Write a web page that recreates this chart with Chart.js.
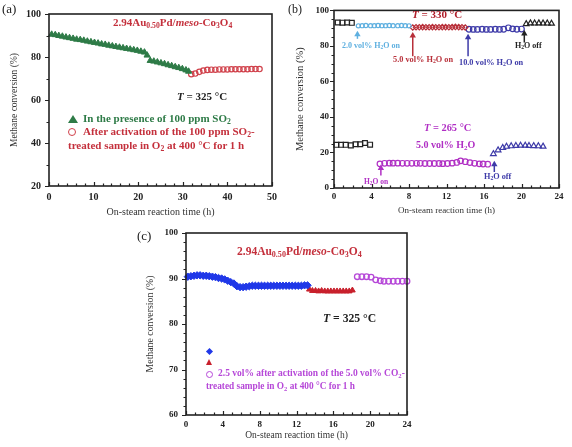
<!DOCTYPE html>
<html lang="en">
<head>
<meta charset="UTF-8">
<title>Methane conversion vs on-steam time</title>
<style>
  body { margin: 0; background: #fff; font-family: "Liberation Serif", serif; }
  #wrap { position: relative; width: 572px; height: 447px; overflow: hidden; }
  canvas { position: absolute; }
  .t { position: absolute; white-space: nowrap; font-weight: bold; line-height: 1; }
  .t sub { font-size: 70%; vertical-align: -0.25em; line-height: 0; }
  .p { position: absolute; font-size: 13px; line-height: 1; color: #222; }
  .tri { position: absolute; width: 0; height: 0; border-left: 5px solid transparent; border-right: 5px solid transparent; }
  .cir { position: absolute; border-radius: 50%; background: #fff; }
  .dia { position: absolute; width: 5px; height: 5px; transform: rotate(45deg); }
</style>
<script src="https://cdn.jsdelivr.net/npm/chart.js@4.4.0/dist/chart.umd.min.js"></script>
</head>
<body>
<div id="wrap">
  <canvas id="ca" width="290" height="220" style="left:0;top:0"></canvas>
  <canvas id="cb" width="287" height="220" style="left:285px;top:0"></canvas>
  <canvas id="cc" width="370" height="232" style="left:100px;top:215px"></canvas>

  <div class="p" style="left:2px;top:2px">(a)</div>
  <div class="p" style="left:288px;top:3px;font-size:12px">(b)</div>
  <div class="p" style="left:137px;top:229px">(c)</div>

  <!-- panel a -->
  <div class="t" style="left:113px;top:17px;font-size:11px;color:#c4303c">2.94Au<sub>0.50</sub>Pd/<i>meso</i>-Co<sub>3</sub>O<sub>4</sub></div>
  <div class="t" style="left:177px;top:91px;font-size:11px;color:#222"><i>T</i> = 325 °C</div>
  <div class="tri" style="left:68px;top:115px;border-bottom:8px solid #2e7b47"></div>
  <div class="t" style="left:83px;top:113px;font-size:11px;color:#2e7b47">In the presence of 100 ppm SO<sub>2</sub></div>
  <div class="cir" style="left:68px;top:128px;width:6px;height:6px;border:1.3px solid #d0404a"></div>
  <div class="t" style="left:83px;top:126px;font-size:11px;color:#c4303c">After activation of the 100 ppm SO<sub>2</sub>-</div>
  <div class="t" style="left:68px;top:140px;font-size:11px;color:#c4303c">treated sample in O<sub>2</sub> at 400 °C for 1 h</div>

  <!-- panel b -->
  <div class="t" style="left:412px;top:9px;font-size:11px;color:#b0202c"><i>T</i> = 330 °C</div>
  <div class="t" style="left:342px;top:42px;font-size:8px;color:#5fb0e0">2.0 vol% H<sub>2</sub>O on</div>
  <div class="t" style="left:393px;top:56px;font-size:8.3px;color:#b8303a">5.0 vol% H<sub>2</sub>O on</div>
  <div class="t" style="left:459px;top:59px;font-size:8.3px;color:#3d3aa8">10.0 vol% H<sub>2</sub>O on</div>
  <div class="t" style="left:515px;top:42px;font-size:8px;color:#222">H<sub>2</sub>O off</div>
  <div class="t" style="left:424px;top:123px;font-size:10.4px;color:#b02fc4"><i>T</i> = 265 °C</div>
  <div class="t" style="left:416px;top:140px;font-size:10px;color:#b02fc4">5.0 vol% H<sub>2</sub>O</div>
  <div class="t" style="left:364px;top:178px;font-size:7.5px;color:#b02fc4">H<sub>2</sub>O on</div>
  <div class="t" style="left:484px;top:173px;font-size:8.2px;color:#3d3aa8">H<sub>2</sub>O off</div>

  <!-- panel c -->
  <div class="t" style="left:237px;top:246px;font-size:11.5px;color:#c4303c">2.94Au<sub>0.50</sub>Pd/<i>meso</i>-Co<sub>3</sub>O<sub>4</sub></div>
  <div class="t" style="left:323px;top:313px;font-size:11.7px;color:#222"><i>T</i> = 325 °C</div>
  <div class="dia" style="left:206.5px;top:348.5px;background:#2038e8"></div>
  <div class="tri" style="left:206px;top:359px;border-left-width:3.5px;border-right-width:3.5px;border-bottom:6px solid #c8202c"></div>
  <div class="cir" style="left:206px;top:371px;width:5px;height:5px;border:1.2px solid #b648d8"></div>
  <div class="t" style="left:218px;top:369px;font-size:9.5px;color:#b648d8">2.5 vol% after activation of the 5.0 vol% CO<sub>2</sub>-</div>
  <div class="t" style="left:206px;top:382px;font-size:9.3px;color:#b648d8">treated sample in O<sub>2</sub> at 400 °C for 1 h</div>
</div>

<script>
// (a) SO2 test, 325 C
const aSO2Time = [0.6, 1.4, 2.2, 3.0, 3.8, 4.6, 5.4, 6.2, 7.0, 7.8, 8.6, 9.4, 10.2, 11.0, 11.8, 12.6, 13.4, 14.2, 15.0, 15.8,
  16.6, 17.4, 18.2, 19.0, 19.8, 20.6, 21.4, 22.0, 22.7, 23.5, 24.3, 25.1, 25.9, 26.7, 27.5, 28.3, 29.1, 29.9, 30.7, 31.3];
const aSO2Conv = [90.5, 90.3, 89.9, 89.6, 89.2, 88.9, 88.6, 88.2, 88.0, 87.7, 87.3, 87.0, 86.7, 86.4, 86.0, 85.8, 85.4, 85.1, 84.8, 84.5,
  84.2, 83.9, 83.6, 83.3, 83.0, 82.6, 82.2, 80.8, 78.3, 78.0, 77.6, 77.2, 76.8, 76.3, 75.9, 75.4, 75.0, 74.5, 73.9, 73.3];
const aRegenTime = [31.9, 32.8, 33.7, 34.6, 35.5, 36.4, 37.3, 38.2, 39.1, 40.0, 40.9, 41.8, 42.7, 43.6, 44.5, 45.4, 46.3, 47.2];
const aRegenConv = [72.0, 72.3, 73.1, 73.7, 74.0, 74.1, 74.1, 74.2, 74.2, 74.2, 74.3, 74.3, 74.3, 74.3, 74.3, 74.4, 74.4, 74.4];

// (b) water test, 330 C (upper) and 265 C (lower)
const bDryHiTime = [0.4, 0.9, 1.4, 1.9];
const bDryHiConv = [93.2, 93.1, 93.2, 93.0];
const bW2Time = [2.6, 3.0, 3.4, 3.9, 4.3, 4.7, 5.1, 5.5, 5.9, 6.3, 6.8, 7.2, 7.6, 8.0];
const bW2Conv = [91.3, 91.4, 91.5, 91.4, 91.4, 91.5, 91.4, 91.4, 91.5, 91.4, 91.4, 91.5, 91.4, 91.3];
const bW5Time = [8.4, 8.75, 9.1, 9.45, 9.8, 10.15, 10.5, 10.85, 11.2, 11.55, 11.9, 12.25, 12.6, 12.95, 13.3, 13.65, 14.0];
const bW5Conv = [90.4, 90.5, 90.5, 90.6, 90.5, 90.5, 90.6, 90.5, 90.5, 90.6, 90.6, 90.5, 90.6, 90.7, 90.6, 90.5, 90.4];
const bW10Time = [14.4, 14.85, 15.3, 15.8, 16.25, 16.7, 17.2, 17.65, 18.1, 18.6, 19.05, 19.5, 20.0];
const bW10Conv = [89.4, 89.3, 89.3, 89.4, 89.3, 89.3, 89.4, 89.3, 89.4, 90.2, 89.6, 89.4, 89.5];
const bOffHiTime = [20.5, 20.95, 21.4, 21.85, 22.3, 22.75, 23.2];
const bOffHiConv = [92.4, 92.8, 92.7, 92.8, 92.7, 92.7, 92.6];
const bDryLoTime = [0.25, 0.75, 1.25, 1.8, 2.3, 2.8, 3.3, 3.85];
const bDryLoConv = [24.3, 24.3, 24.3, 24.0, 24.6, 24.6, 25.3, 24.4];
const bWetLoTime = [4.9, 5.4, 5.9, 6.3, 6.8, 7.3, 7.8, 8.3, 8.8, 9.2, 9.7, 10.2, 10.7, 11.2, 11.6, 12.1, 12.6, 13.1, 13.5, 14.0,
  14.5, 15.0, 15.5, 15.9, 16.4];
const bWetLoConv = [13.6, 13.9, 14.0, 14.0, 14.0, 13.9, 13.9, 13.9, 13.9, 13.9, 13.8, 13.8, 13.8, 13.8, 13.7, 13.8, 14.0, 14.4, 15.3, 14.8,
  14.3, 13.9, 13.6, 13.5, 13.4];
const bOffLoTime = [17.0, 17.5, 18.0, 18.4, 18.9, 19.4, 19.9, 20.4, 20.8, 21.3, 21.8, 22.3];
const bOffLoConv = [19.2, 21.3, 22.6, 23.3, 23.6, 23.8, 23.9, 23.9, 23.8, 23.7, 23.6, 23.4];
// arrows in (b): time, tail and tip in conversion units
const bArrowTime = [2.5, 8.4, 14.3, 20.3, 5.0, 17.1];
const bArrowTail = [84.0, 74.2, 74.2, 81.9, 7.1, 9.0];
const bArrowTip = [88.6, 87.9, 86.8, 89.0, 13.2, 15.4];

// (c) CO2 test, 325 C
const cDiaTime = [0.2, 0.53, 0.87, 1.2, 1.53, 1.87, 2.2, 2.53, 2.87, 3.2, 3.53, 3.87, 4.2, 4.53, 4.87, 5.2, 5.53, 5.87, 6.2, 6.53,
  6.87, 7.2, 7.53, 7.87, 8.2, 8.53, 8.87, 9.2, 9.53, 9.87, 10.2, 10.53, 10.87, 11.2, 11.53, 11.87, 12.2, 12.53, 12.87, 13.2];
const cDiaConv = [90.4, 90.5, 90.6, 90.7, 90.7, 90.6, 90.6, 90.5, 90.4, 90.3, 90.1, 90.0, 89.8, 89.5, 89.2, 88.9, 88.3, 88.1, 88.1, 88.2,
  88.3, 88.4, 88.4, 88.4, 88.4, 88.4, 88.4, 88.4, 88.4, 88.4, 88.4, 88.4, 88.4, 88.4, 88.4, 88.4, 88.4, 88.4, 88.5, 88.5];
const cTriTime = [13.4, 13.73, 14.07, 14.4, 14.73, 15.07, 15.4, 15.73, 16.07, 16.4, 16.73, 17.07, 17.4, 17.73, 18.07];
const cTriConv = [87.6, 87.3, 87.3, 87.2, 87.3, 87.2, 87.2, 87.2, 87.2, 87.2, 87.2, 87.2, 87.2, 87.2, 87.4];
const cCirTime = [18.6, 19.1, 19.6, 20.1, 20.6, 21.1, 21.5, 22.0, 22.5, 23.0, 23.5, 24.0];
const cCirConv = [90.4, 90.4, 90.4, 90.3, 89.7, 89.5, 89.4, 89.4, 89.4, 89.4, 89.4, 89.4];

const pts = (xs, ys) => xs.map((x, i) => ({x, y: ys[i]}));

const arrowColors = ['#5fb0e0', '#b8303a', '#3d3aa8', '#222', '#b02fc4', '#3d3aa8'];

// box around plot area, x ticks inward, y ticks outward
const frame = {
  id: 'frame',
  afterDraw(chart, args, o) {
    const {ctx, chartArea: a, scales: {x, y}} = chart;
    ctx.save();
    ctx.strokeStyle = '#222';
    ctx.lineWidth = 1.2;
    ctx.beginPath();
    const nx = Math.round((x.max - x.min) / o.xMinor);
    for (let i = 0; i <= nx; i++) {
      const px = Math.round(x.getPixelForValue(x.min + i * o.xMinor)) + 0.5;
      const len = i % o.xEvery === 0 ? 4 : 2.5;
      ctx.moveTo(px, a.bottom);
      ctx.lineTo(px, a.bottom - len);
    }
    const ny = Math.round((y.max - y.min) / o.yMinor);
    for (let i = 0; i <= ny; i++) {
      const py = Math.round(y.getPixelForValue(y.min + i * o.yMinor)) + 0.5;
      const len = i % o.yEvery === 0 ? 4 : 2.5;
      ctx.moveTo(a.left, py);
      ctx.lineTo(a.left - len, py);
    }
    ctx.stroke();
    ctx.lineWidth = 1.6;
    ctx.strokeRect(a.left, a.top, a.right - a.left, a.bottom - a.top);
    ctx.restore();
  }
};

const arrows = {
  id: 'arrows',
  afterDatasetsDraw(chart) {
    const {ctx, scales: {x, y}} = chart;
    ctx.save();
    bArrowTime.forEach((t, i) => {
      const px = x.getPixelForValue(t);
      const y0 = y.getPixelForValue(bArrowTail[i]);
      const y1 = y.getPixelForValue(bArrowTip[i]);
      ctx.strokeStyle = ctx.fillStyle = arrowColors[i];
      ctx.lineWidth = 1.5;
      ctx.beginPath();
      ctx.moveTo(px, y0);
      ctx.lineTo(px, y1 + 4);
      ctx.stroke();
      ctx.beginPath();
      ctx.moveTo(px, y1);
      ctx.lineTo(px - 3.2, y1 + 5.5);
      ctx.lineTo(px + 3.2, y1 + 5.5);
      ctx.closePath();
      ctx.fill();
    });
    ctx.restore();
  }
};

function axes(o) {
  const tickFont = {family: 'Liberation Serif', weight: 'bold', size: o.tickSize};
  return {
    x: {
      type: 'linear', min: o.xMin, max: o.xMax,
      grid: {display: false, drawTicks: false},
      border: {display: false},
      ticks: {stepSize: o.xStep, font: tickFont, color: '#222', padding: o.xPad, maxRotation: 0, autoSkip: false},
      title: {display: true, text: 'On-steam reaction time (h)', color: '#333',
        font: {family: 'Liberation Serif', size: o.xTitleSize}, padding: {top: 0, bottom: o.xTitlePad}},
      afterFit: s => { s.height = o.xHeight; }
    },
    y: {
      type: 'linear', min: o.yMin, max: o.yMax,
      grid: {display: false, drawTicks: false},
      border: {display: false},
      ticks: {stepSize: o.yStep, font: tickFont, color: '#222', padding: o.yPad},
      title: {display: true, text: 'Methane conversion (%)', color: '#333',
        font: {family: 'Liberation Serif', size: o.yTitleSize}, padding: {top: o.yTitlePad, bottom: 0}},
      afterFit: s => { s.width = o.yWidth; }
    }
  };
}

function panel(id, datasets, ax, pad, ticks, extra) {
  return new Chart(document.getElementById(id), {
    type: 'scatter',
    data: {datasets},
    options: {
      responsive: false,
      animation: false,
      layout: {padding: pad},
      scales: axes(ax),
      plugins: {legend: {display: false}, tooltip: {enabled: false}, frame: ticks}
    },
    plugins: [frame].concat(extra || [])
  });
}

const open = (color, r, w) => ({borderColor: color, backgroundColor: 'rgba(255,255,255,0)', pointRadius: r, borderWidth: w || 1.2, clip: false});
const full = (color, r) => ({borderColor: color, backgroundColor: color, pointRadius: r, borderWidth: 1, clip: false});

panel('ca', [
  {data: pts(aSO2Time, aSO2Conv), pointStyle: 'triangle', ...full('#2e7b47', 3.6)},
  {data: pts(aRegenTime, aRegenConv), pointStyle: 'circle', ...open('#d0404a', 2.7)}
], {xMin: 0, xMax: 50, xStep: 10, yMin: 20, yMax: 100, yStep: 20, tickSize: 10, xPad: 5, yPad: 8,
  xTitleSize: 10, xTitlePad: 2, yTitleSize: 9.5, yTitlePad: 9, xHeight: 34, yWidth: 49},
  {top: 6, right: 18, left: 0, bottom: 0},
  {xMinor: 2, xEvery: 5, yMinor: 10, yEvery: 2});

panel('cb', [
  {data: pts(bDryHiTime, bDryHiConv), pointStyle: 'rect', ...open('#222', 3.4)},
  {data: pts(bW2Time, bW2Conv), pointStyle: 'circle', ...open('#5fb0e0', 2.1)},
  {data: pts(bW5Time, bW5Conv), pointStyle: 'rectRot', ...open('#b8303a', 2.7)},
  {data: pts(bW10Time, bW10Conv), pointStyle: 'circle', ...open('#3d3aa8', 2.8)},
  {data: pts(bOffHiTime, bOffHiConv), pointStyle: 'triangle', ...open('#222', 3.3)},
  {data: pts(bDryLoTime, bDryLoConv), pointStyle: 'rect', ...open('#222', 3.4)},
  {data: pts(bWetLoTime, bWetLoConv), pointStyle: 'circle', ...open('#b02fc4', 2.8)},
  {data: pts(bOffLoTime, bOffLoConv), pointStyle: 'triangle', ...open('#3d3aa8', 3.3)}
], {xMin: 0, xMax: 24, xStep: 4, yMin: 0, yMax: 100, yStep: 20, tickSize: 9, xPad: 3, yPad: 5,
  xTitleSize: 9, xTitlePad: 3.6, yTitleSize: 10.5, yTitlePad: 8.7, xHeight: 32, yWidth: 49},
  {top: 6, right: 13, left: 0, bottom: 0},
  {xMinor: 1, xEvery: 4, yMinor: 5, yEvery: 4}, [arrows]);

panel('cc', [
  {data: pts(cDiaTime, cDiaConv), pointStyle: 'rectRot', ...full('#2038e8', 3.7)},
  {data: pts(cTriTime, cTriConv), pointStyle: 'triangle', ...full('#c8202c', 3.3)},
  {data: pts(cCirTime, cCirConv), pointStyle: 'circle', ...open('#b648d8', 2.8, 1.3)}
], {xMin: 0, xMax: 24, xStep: 4, yMin: 60, yMax: 100, yStep: 10, tickSize: 9, xPad: 4, yPad: 8,
  xTitleSize: 9.5, xTitlePad: 5.6, yTitleSize: 9.8, yTitlePad: 44.8, xHeight: 32, yWidth: 86},
  {top: 18, right: 63, left: 0, bottom: 0},
  {xMinor: 1, xEvery: 4, yMinor: 2, yEvery: 5});
</script>
</body>
</html>
